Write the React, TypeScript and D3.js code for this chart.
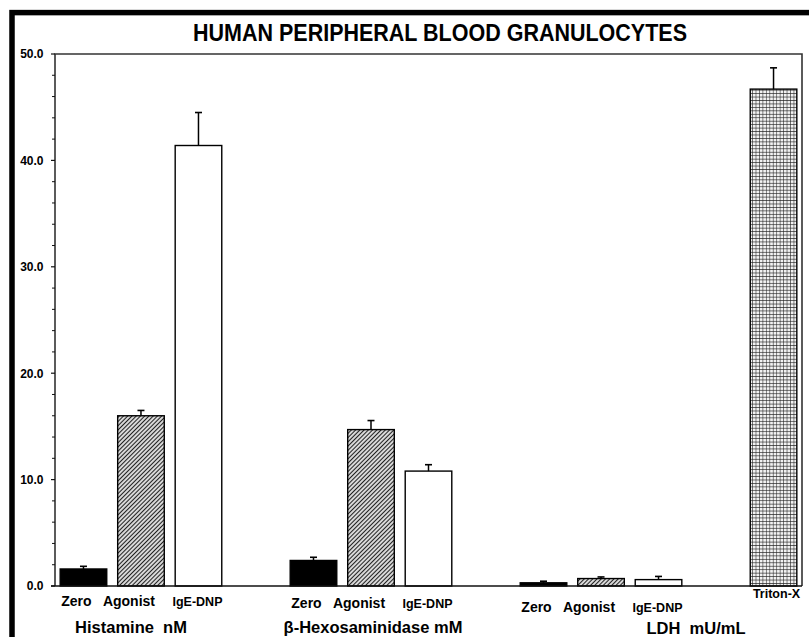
import React from "react";
import * as d3 from "d3";

// values
const treatments = ["Zero", "Agonist", "IgE-DNP"];
const groupNames = ["Histamine  nM", "β-Hexosaminidase mM", "LDH  mU/mL"];
const histamine = [1.6, 16.0, 41.4];
const histamineErr = [0.25, 0.5, 3.1];
const hexosaminidase = [2.4, 14.7, 10.8];
const hexosaminidaseErr = [0.3, 0.85, 0.6];
const ldh = [0.3, 0.7, 0.6];
const ldhErr = [0.15, 0.15, 0.3];
const tritonLabel = "Triton-X";
const triton = 46.7;
const tritonErr = 2.0;
const yTicks = [0, 10, 20, 30, 40, 50];

const W = 809;
const H = 637;
const margin = { top: 54, right: 7, bottom: 51, left: 55 };
const font = "'Liberation Sans', Arial, sans-serif";

const fills = ["#000", "url(#hatch)", "#fff"];
const labelShift = [-7, -12, -1];
const groupShift = [-10, 2, 95];

type Bar = { slot: number; value: number; err: number; fill: string; label: string; group: number; t: number };

const groupValues = [histamine, hexosaminidase, ldh];
const groupErrs = [histamineErr, hexosaminidaseErr, ldhErr];

const bars: Bar[] = [];
groupValues.forEach((vals, g) => {
  vals.forEach((v, t) => {
    bars.push({ slot: g * 4 + t, value: v, err: groupErrs[g][t], fill: fills[t], label: treatments[t], group: g, t });
  });
});
bars.push({ slot: 12, value: triton, err: tritonErr, fill: "url(#grid)", label: tritonLabel, group: 3, t: 3 });

export default function App() {
  const x = d3
    .scaleBand<number>()
    .domain(d3.range(13))
    .range([margin.left, W - margin.right])
    .paddingInner(0.19)
    .paddingOuter(0.09);
  const y = d3.scaleLinear().domain([0, 50]).range([H - margin.bottom, margin.top]);
  const minor = d3.range(0, 50.01, 2).filter((d) => !yTicks.includes(d));
  const x0 = margin.left;
  const x1 = W - margin.right;
  const bw = x.bandwidth();

  return (
    <svg width={W} height={H} style={{ position: "absolute", left: 0, top: 0, background: "#fff" }} fontFamily={font}>
      <defs>
        <pattern id="hatch" patternUnits="userSpaceOnUse" width={3} height={3} patternTransform="rotate(45)">
          <rect width={3} height={3} fill="#d8d8d8" />
          <line x1={0} y1={0} x2={0} y2={3} stroke="#000" strokeWidth={1.7} />
        </pattern>
        <pattern id="grid" patternUnits="userSpaceOnUse" width={3.45} height={3.45}>
          <rect width={3.45} height={3.45} fill="#f2f2f2" />
          <path d="M0,0H3.45M0,0V3.45" stroke="#222" strokeWidth={1.1} fill="none" />
        </pattern>
      </defs>

      {/* outer frame, only top and left visible */}
      <rect x={12} y={12.6} width={900} height={700} fill="none" stroke="#000" strokeWidth={5.5} />

      <text
        transform={`translate(440,41) scale(1,1.14)`}
        textAnchor="middle"
        fontSize={21.5}
        fontWeight="bold"
      >
        HUMAN PERIPHERAL BLOOD GRANULOCYTES
      </text>

      {/* plot box */}
      <path d={`M${x0},${y(0)}V${margin.top}H${x1}V${y(0)}`} fill="none" stroke="#333" strokeWidth={1.6} />

      {/* bars */}
      {bars.map((b) => (
        <g key={b.slot}>
          <rect
            x={x(b.slot)!}
            y={y(b.value)}
            width={bw}
            height={y(0) - y(b.value)}
            fill={b.fill}
            stroke="#000"
            strokeWidth={1.4}
          />
          <line
            x1={x(b.slot)! + bw / 2}
            x2={x(b.slot)! + bw / 2}
            y1={y(b.value)}
            y2={y(b.value + b.err)}
            stroke="#000"
            strokeWidth={1.5}
          />
          <line
            x1={x(b.slot)! + bw / 2 - 3.5}
            x2={x(b.slot)! + bw / 2 + 3.5}
            y1={y(b.value + b.err)}
            y2={y(b.value + b.err)}
            stroke="#000"
            strokeWidth={1.6}
          />
        </g>
      ))}

      {/* y axis */}
      <line x1={x0 - 4} x2={x1} y1={y(0)} y2={y(0)} stroke="#111" strokeWidth={1.6} />
      {yTicks.map((t) => (
        <g key={t}>
          <line x1={x0 - 4} x2={x0} y1={y(t)} y2={y(t)} stroke="#111" strokeWidth={1.2} />
          <text x={43.5} y={y(t) + 4.3} textAnchor="end" fontSize={12} fontWeight="bold">
            {t.toFixed(1)}
          </text>
        </g>
      ))}
      {minor.map((t) => (
        <line key={t} x1={x0 - 3} x2={x0} y1={y(t)} y2={y(t)} stroke="#111" strokeWidth={1} />
      ))}

      {/* category labels */}
      {bars.map((b) => {
        const cx = x(b.slot)! + bw / 2;
        if (b.group === 3) {
          return (
            <text key={"l" + b.slot} x={cx + 3} y={598} textAnchor="middle" fontSize={12.5} fontWeight="bold">
              {b.label}
            </text>
          );
        }
        const yy = [605.5, 607.5, 611.5][b.group];
        return (
          <text
            key={"l" + b.slot}
            x={cx + labelShift[b.t]}
            y={yy}
            textAnchor="middle"
            fontSize={b.t === 2 ? 12.5 : 14}
            fontWeight="bold"
          >
            {b.label}
          </text>
        );
      })}
      {groupNames.map((g, i) => (
        <text
          key={g}
          x={x(i * 4 + 1)! + bw / 2 + groupShift[i]}
          y={[633, 633, 634][i]}
          textAnchor="middle"
          fontSize={16.5}
          fontWeight="bold"
          style={{ whiteSpace: "pre" }}
        >
          {g}
        </text>
      ))}
    </svg>
  );
}
